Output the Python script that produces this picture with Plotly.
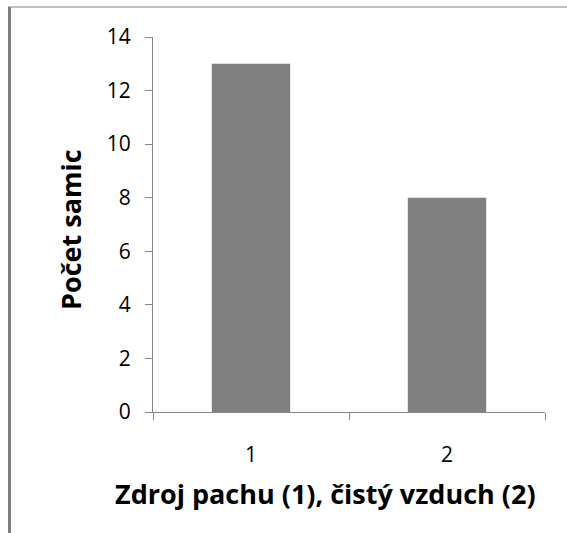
import plotly.graph_objects as go

# Data
categories = ["1", "2"]
females = [13, 8]
y_ticks = [0, 2, 4, 6, 8, 10, 12, 14]

x_title = "Zdroj pachu (1), čistý vzduch (2)"
y_title = "Počet samic"

W, H = 567, 533
ml, mr, mt, mb = 153, 22, 37, 121
pw, ph = W - ml - mr, H - mt - mb

fig = go.Figure(
    go.Bar(
        x=categories,
        y=females,
        marker=dict(color="#808080", line=dict(width=0)),
        width=0.4,
    )
)

axis_grey = "#868686"
font_family = "Open Sans, Carlito, Calibri, sans-serif"

fig.update_layout(
    width=W,
    height=H,
    margin=dict(l=ml, r=mr, t=mt, b=mb),
    paper_bgcolor="white",
    plot_bgcolor="white",
    showlegend=False,
    font=dict(family=font_family, color="black"),
    xaxis=dict(
        type="category",
        showline=True,
        linecolor=axis_grey,
        linewidth=1,
        ticks="outside",
        tickson="boundaries",
        ticklen=7,
        tickcolor=axis_grey,
        showgrid=False,
        tickfont=dict(size=21),
        ticklabelstandoff=24,
    ),
    yaxis=dict(
        range=[0, 14],
        tickvals=y_ticks,
        showline=True,
        linecolor=axis_grey,
        linewidth=1,
        ticks="outside",
        ticklen=7,
        tickcolor=axis_grey,
        showgrid=False,
        zeroline=False,
        tickfont=dict(size=21),
        ticklabelstandoff=10,
    ),
)

# Pixel helpers for positioning in paper coordinates
def px_to_paper_x(px):
    return (px - ml) / pw

def px_to_paper_y(py):
    return (H - mb - py) / ph

# Axis titles
fig.add_annotation(text=f"<b>{x_title}</b>", xref="paper", yref="paper",
                   x=px_to_paper_x(325.5), y=px_to_paper_y(493),
                   xanchor="center", yanchor="middle", showarrow=False,
                   font=dict(size=27, color="black"))
fig.add_annotation(text=f"<b>{y_title}</b>", xref="paper", yref="paper",
                   x=px_to_paper_x(71), y=px_to_paper_y(230), textangle=-90,
                   xanchor="center", yanchor="middle", showarrow=False,
                   font=dict(size=27, color="black"))

# Outer frame: thin top rule and heavier left rule
fig.add_shape(type="line", xref="paper", yref="paper",
              x0=px_to_paper_x(8), x1=px_to_paper_x(W), y0=px_to_paper_y(7), y1=px_to_paper_y(7),
              line=dict(color="#808080", width=1))
fig.add_shape(type="line", xref="paper", yref="paper",
              x0=px_to_paper_x(9.5), x1=px_to_paper_x(9.5), y0=px_to_paper_y(7), y1=px_to_paper_y(H),
              line=dict(color="#808080", width=3))

fig.write_html("out.html")
